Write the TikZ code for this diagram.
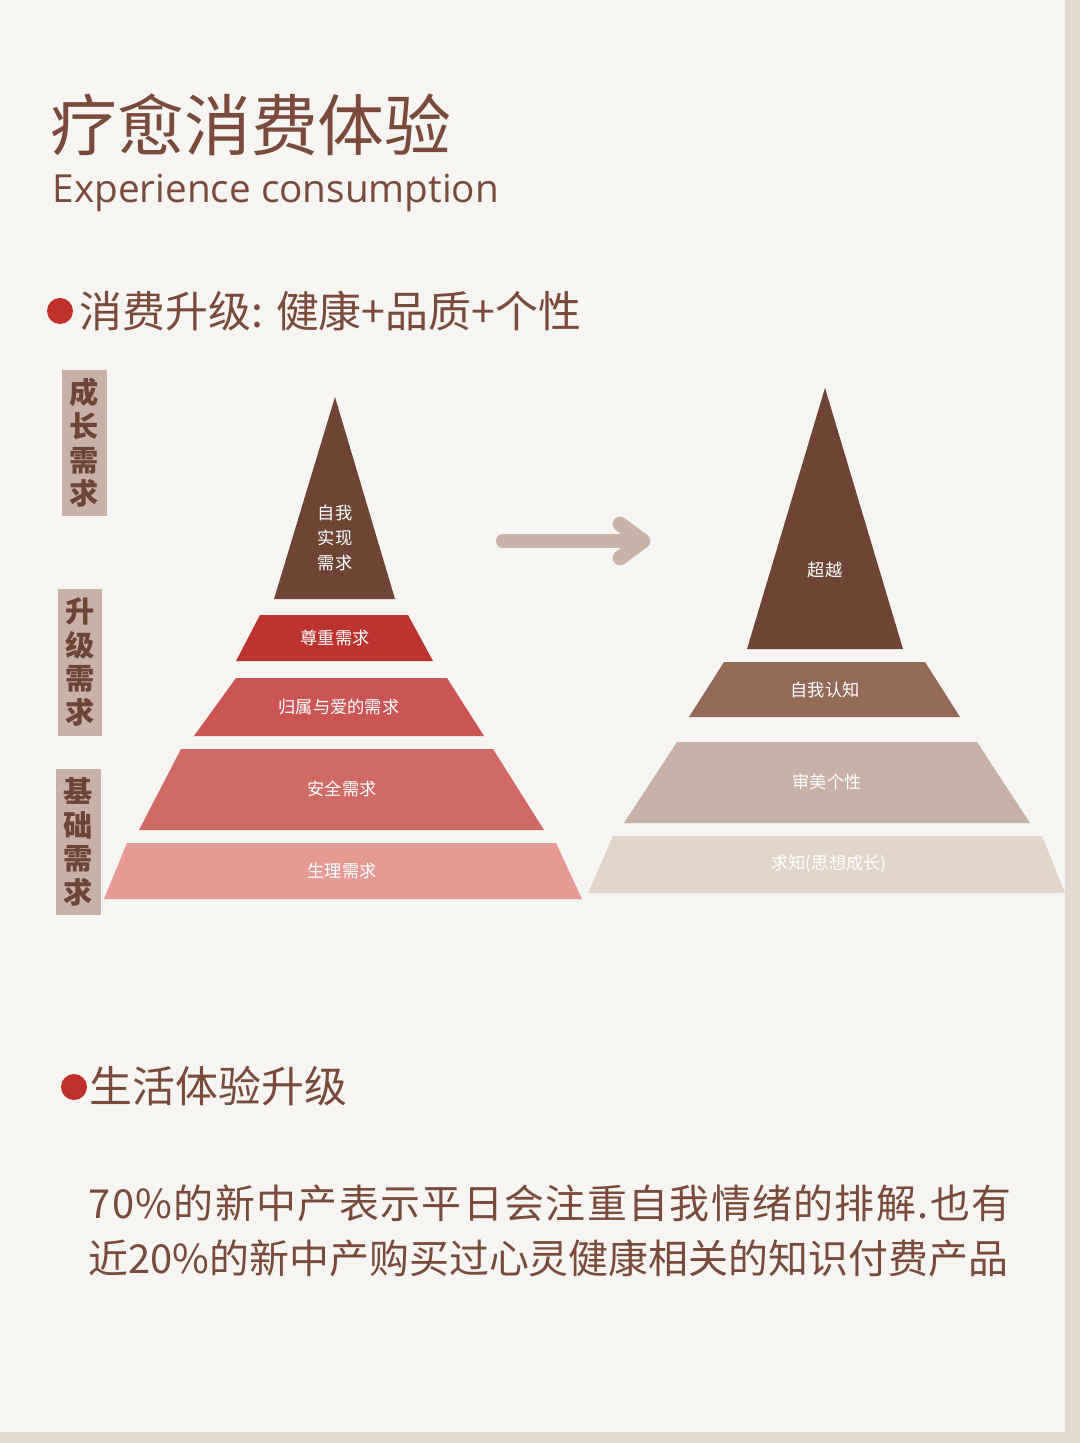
\documentclass[tikz,border=0pt]{standalone}
\usepackage{fontspec}
\setmainfont{Noto Sans}
\newfontfamily\cjk{Noto Sans CJK SC}
\newfontfamily\cjksp[LetterSpace=3.5]{Noto Sans CJK SC}
\newfontfamily\latin{Open Sans}
\definecolor{bg}{HTML}{F7F5F1}
\definecolor{strip}{HTML}{E4DAD0}
\definecolor{ttl}{HTML}{7A4A3A}
\definecolor{dotred}{HTML}{C0312C}
\definecolor{lab}{HTML}{C9B1A7}
\definecolor{labt}{HTML}{6B4535}
\definecolor{pA}{HTML}{6E4534}
\definecolor{pB}{HTML}{BC3330}
\definecolor{pC}{HTML}{CB5555}
\definecolor{pD}{HTML}{D06A67}
\definecolor{pE}{HTML}{E69A94}
\definecolor{qB}{HTML}{936957}
\definecolor{qC}{HTML}{C8B0A6}
\definecolor{qD}{HTML}{E2D6CA}
\definecolor{arr}{HTML}{C9B3A8}
\tikzset{
  plab/.style={text=white,font=\cjk\fontsize{4.9}{6}\selectfont,align=center},
  sidelab/.style={fill=lab,text=labt,font=\cjk\bfseries\fontsize{8.3}{9.6}\selectfont,align=center,inner sep=0pt},
  para/.style={anchor=west,text=ttl,inner sep=0pt},
}
\begin{document}
\begin{tikzpicture}[x=0.01cm,y=-0.01cm]
\useasboundingbox (0,0) rectangle (1080,1443);
\fill[bg] (0,0) rectangle (1080,1443);
\fill[strip] (1065,0) rectangle (1080,1443);
\fill[strip] (0,1432) rectangle (1080,1443);
% titles
\node[anchor=west,text=ttl,font=\cjk\fontsize{19}{20}\selectfont,inner sep=0pt] (t1) at (50,125) {疗愈消费体验};
\node[anchor=west,text=ttl,font=\latin\fontsize{11}{13}\selectfont,inner sep=0pt] (t2) at (52,193) {Experience consumption};
\fill[dotred] (60,311) circle (13);
\node[anchor=west,text=ttl,font=\cjk\fontsize{12.2}{14}\selectfont,inner sep=0pt] (h1) at (79,311) {消费升级: 健康+品质+个性};
% side labels
\fill[lab] (62,370) rectangle (107,516);
\node[sidelab] (s1) at (84.5,443) {成\\长\\需\\求};
\fill[lab] (58,589) rectangle (102,736);
\node[sidelab] (s2) at (80,662) {升\\级\\需\\求};
\fill[lab] (56,769) rectangle (101,915);
\node[sidelab] (s3) at (78,842) {基\\础\\需\\求};
% left pyramid
\fill[pA] (335,397) -- (395,599) -- (274,599) -- cycle;
\fill[pB] (260,615) -- (408,615) -- (433,661) -- (236,661) -- cycle;
\fill[pC] (236,678) -- (447,678) -- (484,736) -- (194,736) -- cycle;
\fill[pD] (181,749) -- (493,749) -- (544,830) -- (139,830) -- cycle;
\fill[pE] (127,843) -- (556,843) -- (582,899) -- (104,899) -- cycle;
\node[plab,font=\cjk\fontsize{4.9}{7.2}\selectfont] (l1) at (335,538) {自我\\实现\\需求};
\node[plab] (l2) at (335,638) {尊重需求};
\node[plab] (l3) at (339,707) {归属与爱的需求};
\node[plab] (l4) at (342,789) {安全需求};
\node[plab] (l5) at (342,871) {生理需求};
% arrow
\coordinate (a0) at (503,541);
\coordinate (a1) at (632,541);
\draw[arr,line width=4pt,line cap=round] (a0) -- (a1);
\draw[arr,line width=4.2pt,line cap=round,line join=round] (620,524) -- (643,541) -- (620,558);
% right pyramid
\fill[pA] (825,388) -- (903,649) -- (747,649) -- cycle;
\fill[qB] (724,662) -- (925,662) -- (960,717) -- (689,717) -- cycle;
\fill[qC] (677,742) -- (977,742) -- (1030,823) -- (624,823) -- cycle;
\fill[qD] (613,836) -- (1042,836) -- (1065,893) -- (588,893) -- cycle;
\node[plab] (r1) at (825,570) {超越};
\node[plab] (r2) at (825,690) {自我认知};
\node[plab] (r3) at (827,782) {审美个性};
\node[plab] (r4) at (829,864) {求知(思想成长)};
% second heading
\fill[dotred] (74,1087) circle (13);
\node[anchor=west,text=ttl,font=\cjk\fontsize{12.2}{14}\selectfont,inner sep=0pt] (h2) at (89,1086) {生活体验升级};
\node[para,font=\cjksp\fontsize{11.35}{14}\selectfont] (p1) at (88,1203) {70\%的新中产表示平日会注重自我情绪的排解.也有};
\node[para,font=\cjk\fontsize{11.35}{14}\selectfont] (p2) at (88,1258) {近20\%的新中产购买过心灵健康相关的知识付费产品};
\end{tikzpicture}
\end{document}
